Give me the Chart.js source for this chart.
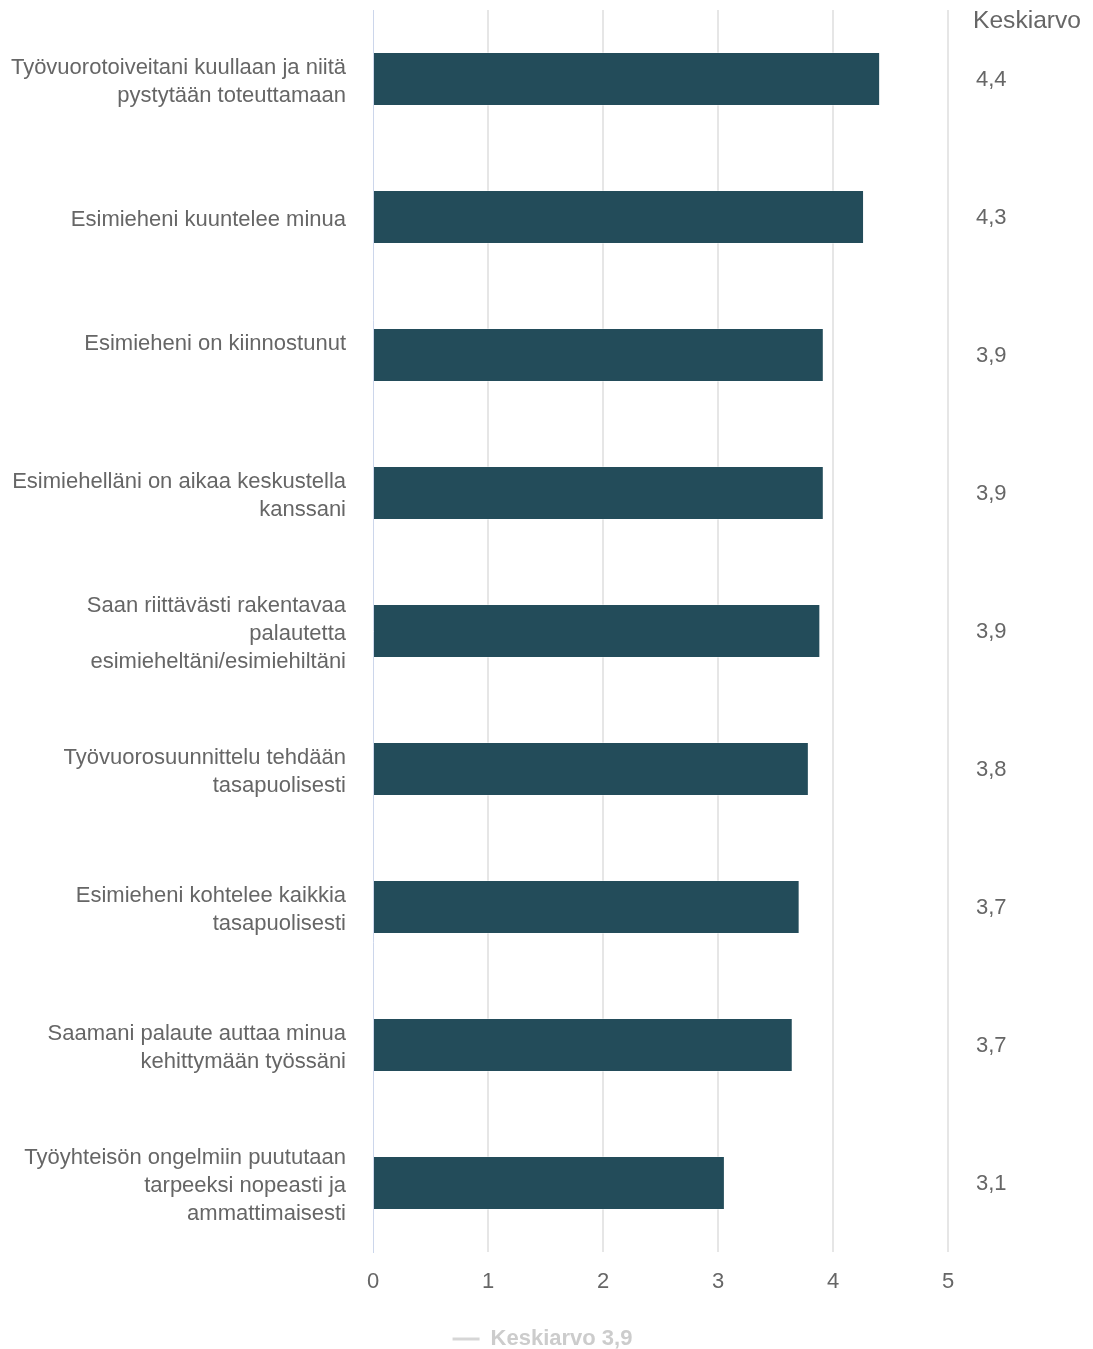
<!DOCTYPE html>
<html>
<head>
<meta charset="utf-8">
<script src="https://cdn.jsdelivr.net/npm/chart.js@4"></script>
<style>
html,body{margin:0;padding:0;background:#fff;}
#wrap{width:1093px;height:1349px;position:relative;}
</style>
</head>
<body>
<div id="wrap"><canvas id="c" width="1093" height="1349"></canvas></div>
<script>
const categories = [
  ["Työvuorotoiveitani kuullaan ja niitä", "pystytään toteuttamaan"],
  "Esimieheni kuuntelee minua",
  ["Esimieheni on kiinnostunut", ""],
  ["Esimiehelläni on aikaa keskustella", "kanssani"],
  ["Saan riittävästi rakentavaa", "palautetta", "esimieheltäni/esimiehiltäni"],
  ["Työvuorosuunnittelu tehdään", "tasapuolisesti"],
  ["Esimieheni kohtelee kaikkia", "tasapuolisesti"],
  ["Saamani palaute auttaa minua", "kehittymään työssäni"],
  ["Työyhteisön ongelmiin puututaan", "tarpeeksi nopeasti ja", "ammattimaisesti"]
];
const values = [4.41, 4.27, 3.92, 3.92, 3.89, 3.79, 3.71, 3.65, 3.06];
const averageLabels = ["4,4", "4,3", "3,9", "3,9", "3,9", "3,8", "3,7", "3,7", "3,1"];
const averageHeader = "Keskiarvo";
const legendLabel = "Keskiarvo 3,9";
const xTicks = [0, 1, 2, 3, 4, 5];

const FONT = "'Liberation Sans', Arial, Helvetica, sans-serif";

// shift the text drawing of an element by a small offset (font baseline differences)
function shiftDraw(obj, method, dx, dy) {
  if (obj['__shifted_' + method]) return;
  const orig = obj[method];
  obj[method] = function (...args) {
    this.ctx.save();
    this.ctx.translate(dx, dy);
    orig.apply(this, args);
    this.ctx.restore();
  };
  obj['__shifted_' + method] = true;
}

const headerPlugin = {
  id: 'headerPlugin',
  afterLayout(chart) {
    shiftDraw(chart.scales.y, 'drawLabels', 0, 3);
    shiftDraw(chart.scales.y2, 'drawLabels', 0, 1);
    shiftDraw(chart.scales.x, 'drawLabels', 0, 2);
    if (chart.legend) shiftDraw(chart.legend, 'draw', -4, 1);
  },
  afterDraw(chart) {
    const ctx = chart.ctx;
    const y2 = chart.scales.y2;
    ctx.save();
    ctx.font = "24.6px " + FONT;
    ctx.fillStyle = "#666666";
    ctx.textAlign = "left";
    ctx.textBaseline = "middle";
    ctx.fillText(averageHeader, y2.left + 25, 21);
    ctx.restore();
  }
};

function noPad(axis) {
  axis.paddingTop = 0;
  axis.paddingBottom = 0;
}

new Chart(document.getElementById('c'), {
  type: 'bar',
  data: {
    labels: categories,
    datasets: [
      {
        label: 'Keskiarvo',
        data: values,
        backgroundColor: '#234c5a',
        borderColor: 'rgba(255,255,255,0.35)',
        borderWidth: 1,
        categoryPercentage: 1,
        barPercentage: 0.392,
        yAxisID: 'y'
      },
      {
        type: 'line',
        label: legendLabel,
        data: [],
        borderColor: '#d6d6d6',
        backgroundColor: '#d6d6d6',
        borderWidth: 0,
        yAxisID: 'y'
      }
    ]
  },
  options: {
    indexAxis: 'y',
    responsive: false,
    animation: false,
    devicePixelRatio: 1,
    layout: { padding: { left: 0, right: 0, top: 10, bottom: -10 } },
    plugins: {
      tooltip: { enabled: false },
      legend: {
        display: true,
        position: 'bottom',
        labels: {
          filter: (item) => item.text === legendLabel,
          boxWidth: 27,
          boxHeight: 3,
          padding: 10,
          color: '#cccccc',
          font: { family: FONT, size: 22, weight: 'bold', lineHeight: 1 }
        }
      }
    },
    scales: {
      x: {
        type: 'linear',
        min: 0,
        max: 5,
        afterBuildTicks: (axis) => { axis.ticks = xTicks.map(v => ({ value: v })); },
        afterFit: (axis) => { axis.height = 65; },
        grid: {
          color: (ctx) => (ctx.tick && ctx.tick.value === 0) ? 'rgba(0,0,0,0)' : '#e6e6e6',
          lineWidth: 2,
          drawTicks: false
        },
        border: { display: false },
        ticks: {
          color: '#666666',
          padding: 15,
          font: { family: FONT, size: 22 }
        }
      },
      y: {
        type: 'category',
        position: 'left',
        grid: { display: false, drawTicks: false },
        border: { display: true, color: '#ccd6eb', width: 1 },
        afterFit: (axis) => { axis.width = 373; noPad(axis); },
        ticks: {
          color: '#666666',
          padding: 27,
          autoSkip: false,
          font: { family: FONT, size: 22, lineHeight: 1.273 }
        }
      },
      y2: {
        type: 'category',
        position: 'right',
        labels: averageLabels,
        offset: true,
        grid: { display: false, drawTicks: false },
        border: { display: false },
        afterFit: (axis) => { axis.width = 145; noPad(axis); },
        ticks: {
          color: '#666666',
          padding: 28,
          autoSkip: false,
          font: { family: FONT, size: 22 }
        }
      }
    }
  },
  plugins: [headerPlugin]
});
</script>
</body>
</html>
